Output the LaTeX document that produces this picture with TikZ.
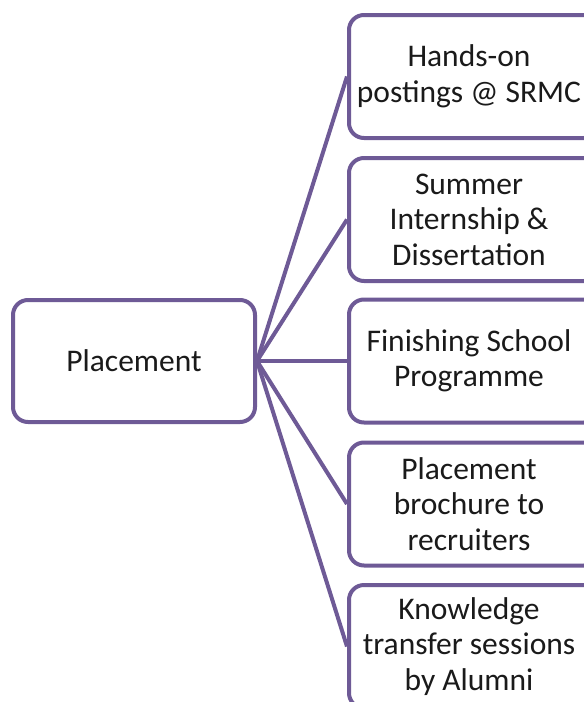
\documentclass[tikz,border=0pt]{standalone}
\usepackage{fontspec}
\setmainfont{Carlito}
\definecolor{boxpurple}{HTML}{6E5A96}
\definecolor{txt}{HTML}{1A1A1A}
\begin{document}
\begin{tikzpicture}[x=1pt,y=-1pt,
  box/.style={draw=boxpurple, line width=4pt, rounded corners=15pt, fill=white, inner sep=0pt},
  lbl/.style={align=center, text=txt, font=\fontsize{31.5}{35.5}\selectfont, inner sep=0pt},
  leftbox/.style={box, minimum width=242pt, minimum height=122pt},
  rightbox/.style={box, minimum width=250pt, minimum height=123pt},
  link/.style={draw=boxpurple, line width=4pt}]
\useasboundingbox (0,0) rectangle (584,702);
% hub
\node[leftbox] (hub) at (134,361) {};
\node[lbl] (hubtext) at (hub) {Placement};
% branch boxes (they run past the right margin)
\node[rightbox] (r1) at (474,76.5) {};
\node[rightbox] (r2) at (474,219.5) {};
\node[rightbox] (r3) at (474,361) {};
\node[rightbox] (r4) at (474,504) {};
\node[rightbox] (r5) at (474,646.5) {};
% branch labels
\node[lbl] (t1) at (469,76.5) {Hands-on\\postings @ SRMC};
\node[lbl] (t2) at (469,219.5) {Summer\\Internship \&\\Dissertation};
\node[lbl] (t3) at (469,361) {Finishing School\\Programme};
\node[lbl] (t4) at (469,504) {Placement\\brochure to\\recruiters};
\node[lbl] (t5) at (469,646.5) {Knowledge\\transfer sessions\\by Alumni};
% spokes
\foreach \n in {r1,r2,r3,r4,r5}
  \draw[link] (hub.east) -- (\n.west);
\end{tikzpicture}
\end{document}
